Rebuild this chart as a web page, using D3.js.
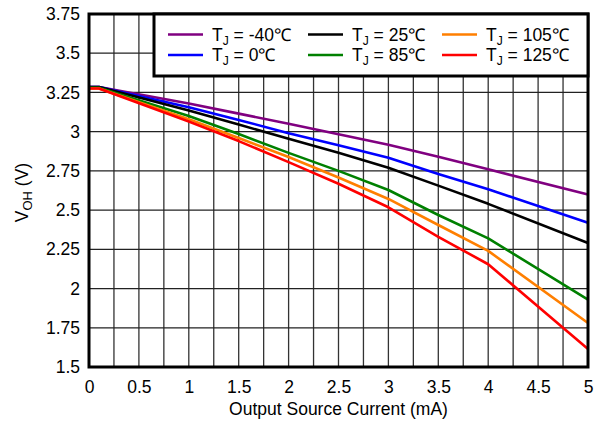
<!DOCTYPE html>
<html><head><meta charset="utf-8">
<script src="https://cdn.jsdelivr.net/npm/d3@7"></script>
<style>body{margin:0;background:#fff}svg{display:block}</style>
</head><body><svg id="c" width="601" height="424"></svg>
<script>
const currents = [0, 0.1, 1, 1.5, 2, 2.5, 3, 3.5, 4, 5];
const vM40  = [3.285, 3.285, 3.18, 3.115, 3.05, 2.984, 2.917, 2.84, 2.76, 2.60];
const v0    = [3.285, 3.285, 3.155, 3.075, 2.99, 2.913, 2.834, 2.73, 2.633, 2.42];
const v25   = [3.285, 3.285, 3.135, 3.045, 2.955, 2.865, 2.77, 2.656, 2.54, 2.29];
const v85   = [3.28, 3.28, 3.10, 2.985, 2.865, 2.75, 2.628, 2.469, 2.32, 1.93];
const v105  = [3.275, 3.275, 3.08, 2.96, 2.838, 2.708, 2.571, 2.405, 2.24, 1.78];
const v125  = [3.275, 3.275, 3.065, 2.94, 2.806, 2.668, 2.518, 2.33, 2.155, 1.615];
const seriesNames = ["-40", "0", "25", "85", "105", "125"];
const seriesColors = ["#800080", "#0000ff", "#000000", "#008000", "#ff7f00", "#ff0000"];
const xTicks = [0, 0.5, 1, 1.5, 2, 2.5, 3, 3.5, 4, 4.5, 5];
const yTicks = [1.5, 1.75, 2, 2.25, 2.5, 2.75, 3, 3.25, 3.5, 3.75];
const xTitle = "Output Source Current (mA)";

const seriesVals = [vM40, v0, v25, v85, v105, v125];
const svg = d3.select("#c");
const L = 89, R = 588, T = 14, B = 367;
const x = d3.scaleLinear().domain([0, 5]).range([L, R]);
const y = d3.scaleLinear().domain([1.5, 3.75]).range([B, T]);
const font = "Arial, 'Liberation Sans', sans-serif";
const fs = 17.5;

// grid
const g = svg.append("g");
g.selectAll("line.v").data(d3.range(1, 20).map(i => i * 0.25)).enter().append("line")
  .attr("x1", d => x(d)).attr("x2", d => x(d)).attr("y1", T).attr("y2", B)
  .attr("stroke", "#333").attr("stroke-width", 1.3);
g.selectAll("line.h").data(yTicks.slice(1, -1)).enter().append("line")
  .attr("y1", d => y(d)).attr("y2", d => y(d)).attr("x1", L).attr("x2", R)
  .attr("stroke", "#222").attr("stroke-width", 1.3);

// curves
const line = d3.line().x(d => x(d[0])).y(d => y(d[1]));
seriesVals.forEach((vals, i) => {
  svg.append("path").datum(currents.map((c, j) => [c, vals[j]]))
    .attr("d", line).attr("fill", "none").attr("stroke", seriesColors[i])
    .attr("stroke-width", 2.6).attr("stroke-linejoin", "round");
});

// frame
svg.append("rect").attr("x", L).attr("y", T).attr("width", R - L).attr("height", B - T)
  .attr("fill", "none").attr("stroke", "#000").attr("stroke-width", 3);

// axes labels
const xAxis = d3.axisBottom(x).tickValues(xTicks).tickSize(0).tickPadding(14).tickFormat(d3.format("~g"));
const xa = svg.append("g").attr("transform", `translate(0,${B})`).call(xAxis);
xa.select(".domain").remove();
xa.selectAll("text").attr("font-family", font).attr("font-size", fs).attr("fill", "#000");
const yAxis = d3.axisLeft(y).tickValues(yTicks).tickSize(0).tickPadding(9).tickFormat(d3.format("~g"));
const ya = svg.append("g").attr("transform", `translate(${L},0)`).call(yAxis);
ya.select(".domain").remove();
ya.selectAll("text").attr("font-family", font).attr("font-size", fs).attr("fill", "#000");

svg.append("text").attr("x", (L + R) / 2).attr("y", 415).attr("text-anchor", "middle")
  .attr("font-family", font).attr("font-size", fs).text(xTitle);
const yt = svg.append("text").attr("transform", `translate(28,${(T + B) / 2 + 2}) rotate(-90)`)
  .attr("text-anchor", "middle").attr("font-family", font).attr("font-size", fs);
yt.append("tspan").text("V");
yt.append("tspan").attr("font-size", 13).attr("dy", 4).text("OH");
yt.append("tspan").attr("dy", -4).text(" (V)");

// legend
svg.append("rect").attr("x", 154).attr("y", T).attr("width", R - 154).attr("height", 62)
  .attr("fill", "#fff").attr("stroke", "#000").attr("stroke-width", 3);
const colX = [168, 308, 442];
const rowY = [34.5, 55];
seriesNames.forEach((n, i) => {
  const cx = colX[Math.floor(i / 2)], cy = rowY[i % 2];
  svg.append("line").attr("x1", cx).attr("x2", cx + 35).attr("y1", cy).attr("y2", cy)
    .attr("stroke", seriesColors[i]).attr("stroke-width", 2.6);
  const t = svg.append("text").attr("x", cx + 44).attr("y", cy + 6)
    .attr("font-family", font).attr("font-size", fs);
  t.append("tspan").text("T");
  t.append("tspan").attr("font-size", 12).attr("dy", 4).text("J");
  t.append("tspan").attr("dy", -4).text(" = " + n + "\u2103");
});
</script></body></html>
